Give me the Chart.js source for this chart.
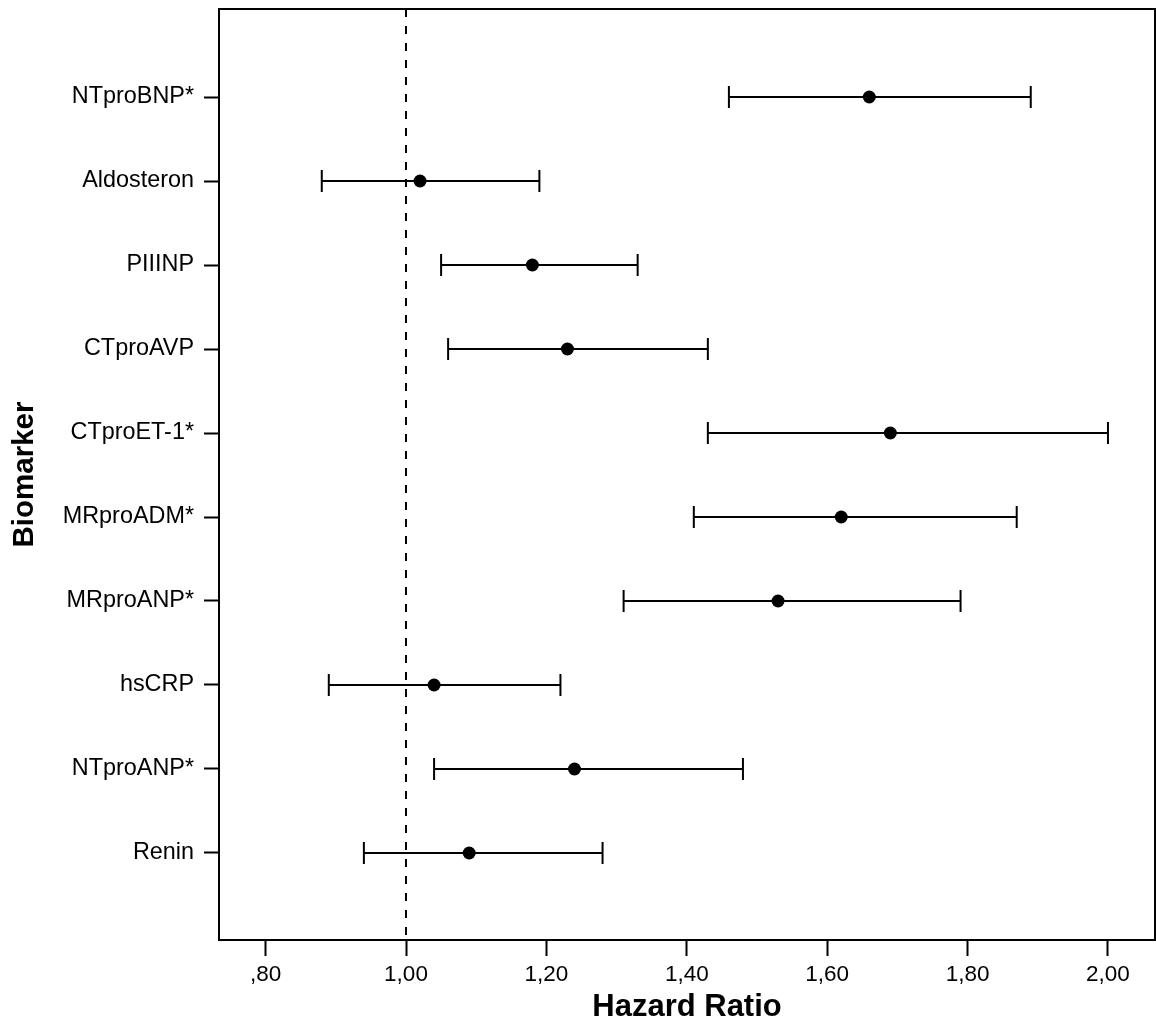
<!DOCTYPE html>
<html>
<head>
<meta charset="utf-8">
<script src="https://cdn.jsdelivr.net/npm/chart.js@4.4.1/dist/chart.umd.min.js"></script>
<style>
  html, body { margin: 0; padding: 0; background: #fff; }
  canvas { display: block; }
</style>
</head>
<body>
<canvas id="forest" width="1156" height="1023" style="width:1156px;height:1023px"></canvas>
<script>
// hazard ratios per biomarker
const biomarkers = ['NTproBNP*', 'Aldosteron', 'PIIINP', 'CTproAVP', 'CTproET-1*',
    'MRproADM*', 'MRproANP*', 'hsCRP', 'NTproANP*', 'Renin'];
const hr = [1.66, 1.02, 1.18, 1.23, 1.69, 1.62, 1.53, 1.04, 1.24, 1.09];
const lower = [1.46, 0.88, 1.05, 1.06, 1.43, 1.41, 1.31, 0.89, 1.04, 0.94];
const upper = [1.89, 1.19, 1.33, 1.43, 2.00, 1.87, 1.79, 1.22, 1.48, 1.28];

const xTickValues = [0.8, 1.0, 1.2, 1.4, 1.6, 1.8, 2.0];
const xTickLabels = [',80', '1,00', '1,20', '1,40', '1,60', '1,80', '2,00'];
const refLine = 1.0;

const xMin = 0.7336, xMax = 2.067;
const yMin = -1.048, yMax = 10.036;

const fontFamily = "'Liberation Sans', Arial, sans-serif";

let datasets = [];

// dashed line at HR = 1
datasets.push({
    type: 'line',
    data: [{x: refLine, y: yMin}, {x: refLine, y: yMax}],
    borderColor: '#000',
    borderWidth: 2,
    borderDash: [8, 9],
    pointRadius: 0,
    order: 5
});

// confidence interval lines
biomarkers.forEach((name, i) => {
    datasets.push({
        type: 'line',
        data: [{x: lower[i], y: i}, {x: upper[i], y: i}],
        borderColor: '#000',
        borderWidth: 2,
        pointRadius: 0,
        order: 3
    });
});

// caps
let caps = [];
biomarkers.forEach((name, i) => {
    caps.push({x: lower[i], y: i});
    caps.push({x: upper[i], y: i});
});
datasets.push({
    type: 'scatter',
    data: caps,
    pointStyle: 'line',
    rotation: 90,
    pointRadius: 11,
    borderColor: '#000',
    borderWidth: 2,
    order: 2
});

// point estimates
datasets.push({
    type: 'scatter',
    data: hr.map((v, i) => ({x: v, y: i})),
    pointStyle: 'circle',
    pointRadius: 6.5,
    backgroundColor: '#000',
    borderColor: '#000',
    borderWidth: 0,
    order: 1
});

const frame = {
    id: 'frame',
    afterDraw(chart) {
        const {ctx, chartArea} = chart;
        ctx.save();
        ctx.strokeStyle = '#000';
        ctx.lineWidth = 2;
        ctx.strokeRect(chartArea.left, chartArea.top,
            chartArea.right - chartArea.left, chartArea.bottom - chartArea.top);
        ctx.restore();
    }
};

// no extra room for labels at the ends, the frame sits at fixed spots
function noPadding(scale) {
    scale.paddingTop = 0;
    scale.paddingBottom = 0;
    scale.paddingLeft = 0;
    scale.paddingRight = 0;
}

let ctx = document.getElementById('forest').getContext('2d');

const config = {
    type: 'scatter',
    data: {datasets: datasets},
    options: {
        responsive: false,
        animation: false,
        events: [],
        layout: {
            autoPadding: false,
            padding: {top: 9, right: 1, left: 0, bottom: 0}
        },
        plugins: {
            legend: {display: false},
            tooltip: {enabled: false}
        },
        scales: {
            x: {
                type: 'linear',
                min: xMin,
                max: xMax,
                afterBuildTicks: (scale) => {
                    scale.ticks = xTickValues.map(v => ({value: v}));
                },
                afterFit: (scale) => {
                    scale.height = 83;
                    noPadding(scale);
                },
                ticks: {
                    color: '#000',
                    font: {family: fontFamily, size: 22.5},
                    padding: 5,
                    callback: (value) => {
                        let idx = xTickValues.findIndex(v => Math.abs(v - value) < 1e-6);
                        return idx >= 0 ? xTickLabels[idx] : '';
                    }
                },
                grid: {
                    display: true,
                    drawOnChartArea: false,
                    drawTicks: true,
                    tickLength: 16,
                    tickWidth: 2,
                    tickColor: '#000'
                },
                border: {display: true, color: '#000', width: 2},
                title: {
                    display: true,
                    text: 'Hazard Ratio',
                    color: '#000',
                    font: {family: fontFamily, size: 31, weight: 'bold'},
                    padding: {top: 0, bottom: -3}
                }
            },
            y: {
                type: 'linear',
                reverse: true,
                min: yMin,
                max: yMax,
                afterBuildTicks: (scale) => {
                    scale.ticks = biomarkers.map((b, i) => ({value: i}));
                },
                afterFit: (scale) => {
                    scale.width = 219;
                    noPadding(scale);
                },
                ticks: {
                    color: '#000',
                    font: {family: fontFamily, size: 23.4},
                    padding: 10,
                    callback: (value) => biomarkers[value] !== undefined ? biomarkers[value] : ''
                },
                grid: {
                    display: true,
                    drawOnChartArea: false,
                    drawTicks: true,
                    tickLength: 15,
                    tickWidth: 2,
                    tickColor: '#000'
                },
                border: {display: true, color: '#000', width: 2},
                title: {
                    display: true,
                    text: 'Biomarker',
                    color: '#000',
                    font: {family: fontFamily, size: 29.5, weight: 'bold'},
                    padding: {top: 7, bottom: 0}
                }
            }
        }
    },
    plugins: [frame]
};

let forestChart = new Chart(ctx, config);
</script>
</body>
</html>
